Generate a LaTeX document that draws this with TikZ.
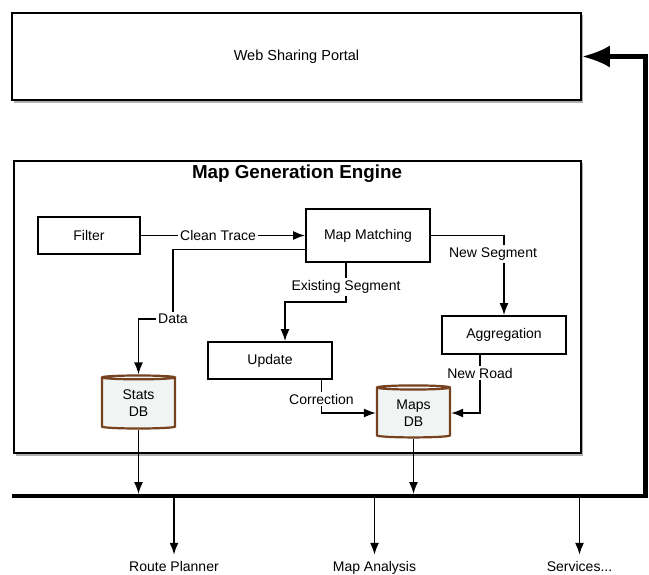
\documentclass[tikz,border=0pt]{standalone}
\usepackage{fontspec}
\setmainfont{Liberation Sans}
\usetikzlibrary{arrows.meta,shapes.geometric}
\definecolor{dbbrown}{RGB}{118,66,32}
\definecolor{dbfill}{RGB}{240,244,242}
\definecolor{shadowgray}{RGB}{175,175,175}
\begin{document}
\begin{tikzpicture}[x=1pt,y=-1pt,
  every node/.style={font=\fontsize{14}{16}\selectfont},
  box/.style={draw, line width=1.8pt, fill=white, inner sep=0pt},
  lbl/.style={fill=white, inner sep=2pt},
  conn/.style={line width=1.6pt, -{Latex[length=12pt,width=9pt]}},
  plain/.style={line width=1.6pt},
  outlbl/.style={anchor=base, text height=10pt, text depth=3pt, inner sep=1pt},
  db/.style={cylinder, shape border rotate=90, aspect=0.12, draw=dbbrown, line width=2.2pt,
    fill=dbfill, inner sep=0pt, align=center, font=\fontsize{14}{17}\selectfont},
  bus/.style={line width=4.5pt, line join=miter}
]
\useasboundingbox (0,0) rectangle (649,574);

% shadows
\fill[shadowgray] (14,15) rectangle (583,102.5);
\fill[shadowgray] (16,163) rectangle (583,455.5);

% boxes
\node[box, minimum width=569pt, minimum height=87pt, font=\fontsize{14.5}{17}\selectfont] (portal) at (296.5,56.5) {Web Sharing Portal};
\node[box, minimum width=567pt, minimum height=292pt] (mge) at (297.5,307) {};
\node[font=\fontsize{18.8}{22}\selectfont\bfseries] (mgetitle) at (297,174) {Map Generation Engine};

\node[box, minimum width=102pt, minimum height=37pt] (filter) at (89,235.5) {Filter};
\node[box, minimum width=124pt, minimum height=53pt] (mm) at (368,235.5) {Map Matching};
\node[box, minimum width=124pt, minimum height=37pt] (update) at (270,360.5) {Update};
\node[box, minimum width=124pt, minimum height=38pt] (agg) at (504,335) {Aggregation};
\node[db, minimum width=73pt, minimum height=53pt] (stats) at (138.5,403.5) {Stats\\DB};
\node[db, minimum width=73pt, minimum height=52pt] (maps) at (413.5,413) {Maps\\DB};

% labels
\node[lbl] (data) at (173,319) {Data};
\node[lbl] (exist) at (346,287) {Existing Segment};
\node[lbl] (newseg) at (493,254) {New Segment};
\node[lbl] (newroad) at (480,373) {New Road};
\node[lbl] (corr) at (321.5,399) {Correction};

% connectors
\draw[conn] (filter) -- node[lbl, pos=0.47] (clean) {Clean Trace} (mm);
\draw[plain] ([yshift=-14pt]mm.west) -| (data.north);
\draw[conn] (data.west) -| (stats.north);
\draw[plain] (exist.north |- mm.south) -- (exist.north);
\draw[conn] (exist.south) -- ++(0,6) -| ([xshift=15pt]update.north);
\draw[plain] (mm.east) -| ([xshift=11pt]newseg.north);
\draw[conn] ([xshift=11pt]newseg.south) -- (agg.north);
\draw[plain] (newroad.north |- agg.south) -- (newroad.north);
\draw[conn] (newroad.south) |- (maps.east);
\draw[plain] (corr.north |- update.south) -- (corr.north);
\draw[conn] (corr.south) |- (maps.west);

% bus
\coordinate (busL) at (12,496);
\coordinate (busR) at (645.5,496);
\draw[bus, -{Latex[length=28pt,width=22pt]}] (busL) -- (busR) |- (portal.east);

\draw[conn, shorten >=2pt] (stats.south) -- (stats.south |- busL);
\draw[conn, shorten >=2pt] (maps.south) -- (maps.south |- busL);

% outputs
\node[outlbl] (rp) at (174,571) {Route Planner};
\node[outlbl] (ma) at (374.5,571) {Map Analysis};
\node[outlbl] (sv) at (579.5,571) {Services...};
\draw[conn, shorten >=5pt] (rp.north |- busL) -- (rp.north);
\draw[conn, shorten >=5pt] (ma.north |- busL) -- (ma.north);
\draw[conn, shorten >=5pt] (sv.north |- busL) -- (sv.north);
\end{tikzpicture}
\end{document}
